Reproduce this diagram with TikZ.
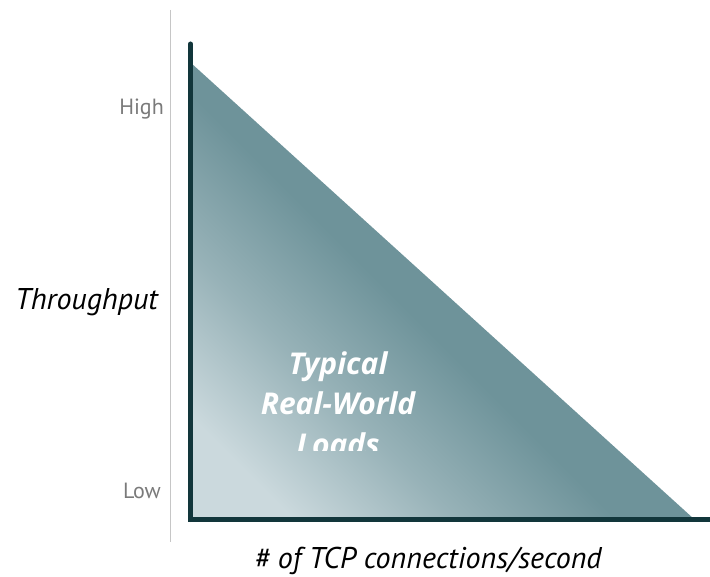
\documentclass[tikz,border=0pt]{standalone}
\usepackage{fontspec}
\setmainfont{PT Sans}
\newfontfamily\loadfont{Open Sans}
\definecolor{axisdark}{HTML}{12363B}
\definecolor{tealdark}{HTML}{6E939A}
\definecolor{teallight}{HTML}{CBD9DD}
\definecolor{labelgray}{HTML}{7A7A7A}
\pgfdeclareverticalshading{loadfill}{100bp}{color(0bp)=(teallight); color(22bp)=(teallight); color(34bp)=(teallight!45!tealdark); color(46bp)=(tealdark); color(100bp)=(tealdark)}
\tikzset{
  axisline/.style={draw=axisdark, line width=5pt},
  ticklabel/.style={text=labelgray, font=\fontsize{22}{26}\selectfont, anchor=base east, inner sep=0pt},
  axistitle/.style={font=\itshape\fontsize{30}{36}\selectfont, inner sep=0pt},
  loadtext/.style={text=white, font=\loadfont\bfseries\itshape\fontsize{30}{36}\selectfont, inner sep=0pt, anchor=base}
}
\begin{document}
\begin{tikzpicture}[x=1pt, y=-1pt]
  \useasboundingbox (0,0) rectangle (710,577);
  % thin guide line left of the axis
  \draw[draw=gray!45, line width=0.8pt] (170,10) -- (170,542);
  % shaded load region
  \coordinate (top) at (191,63);
  \coordinate (origin) at (191,519);
  \coordinate (far) at (694,519);
  \begin{scope}
    \clip (top) -- (origin) -- (far) -- cycle;
    \shade[shading=loadfill, shading angle=-45] (191,63) rectangle (694,519);
  \end{scope}
  % text inside the region
  \node[loadtext] (typ) at (338,375) {Typical};
  \node[loadtext] (rw) at (338,415) {Real-World};
  \begin{scope}
    \clip (191,420) rectangle (694,450);
    \node[loadtext] (loads) at (338,455) {Loads};
  \end{scope}
  % axes
  \coordinate (ytop) at (190.5,44);
  \coordinate (corner) at (190.5,519.5);
  \coordinate (xend) at (710,519.5);
  \draw[axisline, line cap=round] (ytop) -- (corner);
  \draw[axisline] (188,519.5) -- (xend);
  % labels
  \node[ticklabel] (high) at (164,115) {High};
  \node[ticklabel] (low) at (161,498) {Low};
  \node[axistitle, anchor=base east] (thr) at (158,310) {Throughput};
  \node[axistitle, anchor=base] (xt) at (428,568) {\# of TCP connections/second};
\end{tikzpicture}
\end{document}
